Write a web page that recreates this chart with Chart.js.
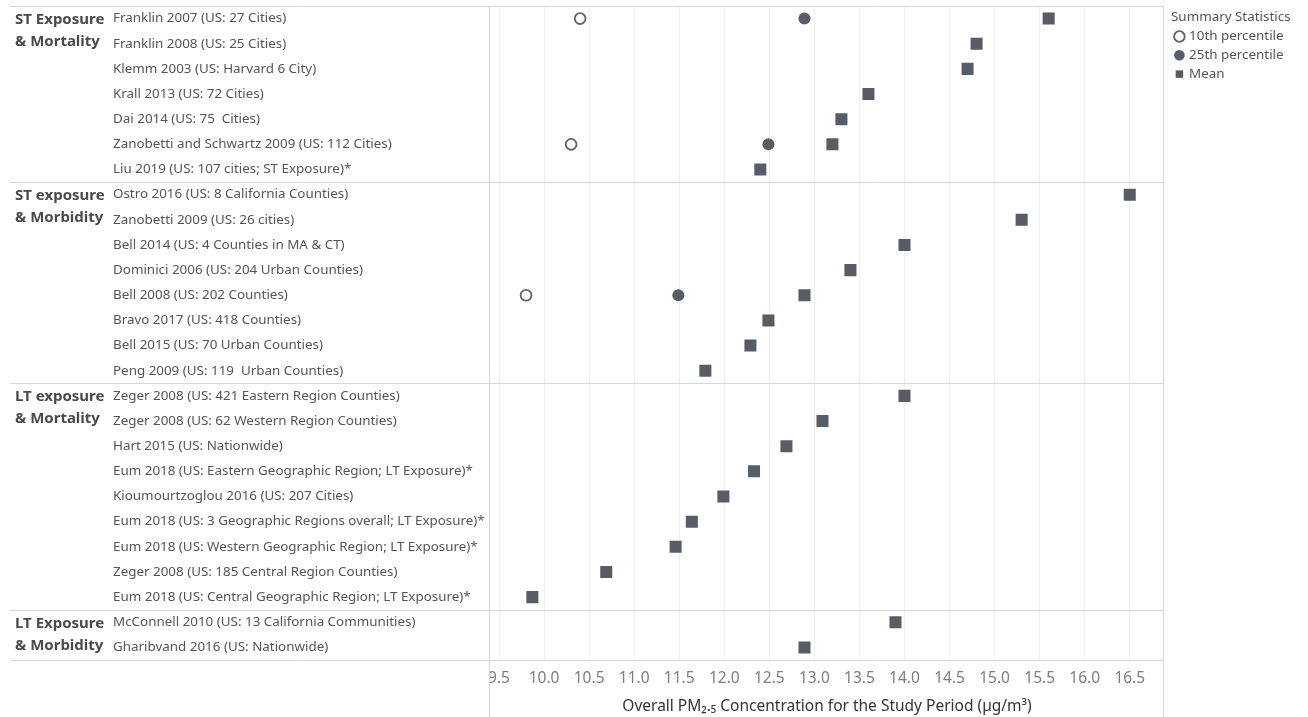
<!DOCTYPE html>
<html>
<head>
<meta charset="utf-8">
<script src="https://cdn.jsdelivr.net/npm/chart.js@4.4.1/dist/chart.umd.min.js"></script>
<style>
  html, body { margin: 0; padding: 0; background: #ffffff; }
  #wrap { width: 1308px; height: 717px; }
</style>
</head>
<body>
<div id="wrap"><canvas id="pm25Chart" width="1308" height="717"></canvas></div>
<script>
const studies = [
  "Franklin 2007 (US: 27 Cities)",
  "Franklin 2008 (US: 25 Cities)",
  "Klemm 2003 (US: Harvard 6 City)",
  "Krall 2013 (US: 72 Cities)",
  "Dai 2014 (US: 75  Cities)",
  "Zanobetti and Schwartz 2009 (US: 112 Cities)",
  "Liu 2019 (US: 107 cities; ST Exposure)*",
  "Ostro 2016 (US: 8 California Counties)",
  "Zanobetti 2009 (US: 26 cities)",
  "Bell 2014 (US: 4 Counties in MA & CT)",
  "Dominici 2006 (US: 204 Urban Counties)",
  "Bell 2008 (US: 202 Counties)",
  "Bravo 2017 (US: 418 Counties)",
  "Bell 2015 (US: 70 Urban Counties)",
  "Peng 2009 (US: 119  Urban Counties)",
  "Zeger 2008 (US: 421 Eastern Region Counties)",
  "Zeger 2008 (US: 62 Western Region Counties)",
  "Hart 2015 (US: Nationwide)",
  "Eum 2018 (US: Eastern Geographic Region; LT Exposure)*",
  "Kioumourtzoglou 2016 (US: 207 Cities)",
  "Eum 2018 (US: 3 Geographic Regions overall; LT Exposure)*",
  "Eum 2018 (US: Western Geographic Region; LT Exposure)*",
  "Zeger 2008 (US: 185 Central Region Counties)",
  "Eum 2018 (US: Central Geographic Region; LT Exposure)*",
  "McConnell 2010 (US: 13 California Communities)",
  "Gharibvand 2016 (US: Nationwide)",
];

const groupNames = [
  ["ST Exposure", "& Mortality"],
  ["ST exposure", "& Morbidity"],
  ["LT exposure", "& Mortality"],
  ["LT Exposure", "& Morbidity"],
];
const groupSizes = [7, 8, 9, 2];

const p10Values = [
  10.4, null, null, null, null, 10.3, null,
  null, null, null, null, 9.8, null, null, null,
  null, null, null, null, null, null, null, null, null,
  null, null,
];

const p25Values = [
  12.89, null, null, null, null, 12.49, null,
  null, null, null, null, 11.49, null, null, null,
  null, null, null, null, null, null, null, null, null,
  null, null,
];

const meanValues = [
  15.6, 14.8, 14.7, 13.6, 13.3, 13.2, 12.4,
  16.5, 15.3, 14.0, 13.4, 12.89, 12.49, 12.29, 11.79,
  14.0, 13.09, 12.69, 12.33, 11.99, 11.64, 11.46, 10.69, 9.87,
  13.9, 12.89,
];

const tickValues = [
  9.5, 10.0, 10.5, 11.0, 11.5, 12.0, 12.5, 13.0,
  13.5, 14.0, 14.5, 15.0, 15.5, 16.0, 16.5,
];

const seriesLabels = ["10th percentile", "25th percentile", "Mean"];
const legendTitle = "Summary Statistics";
const axisTitle = "Overall PM\u2082.\u2085 Concentration for the Study Period (\u00b5g/m\u00b3)";

const MARK_COLOR = "#575c67";
const DIVIDER_COLOR = "#d6d6d6";
const GRID_COLOR = "#efefef";
const TEXT_COLOR = "#555555";
const FONT = '"Noto Sans", "Open Sans", sans-serif';

// lines between the study groups, outer frame lines and the group names
const groupDividers = {
  id: "groupDividers",
  beforeDatasetsDraw(chart) {
    const { ctx, chartArea, scales } = chart;
    const yScale = scales.y;
    ctx.save();
    ctx.strokeStyle = DIVIDER_COLOR;
    ctx.lineWidth = 1;

    const edges = [chartArea.top];
    let count = 0;
    groupSizes.forEach((size) => {
      count += size;
      edges.push(yScale.getPixelForValue(count - 0.5));
    });
    edges.forEach((py) => {
      const yy = Math.round(py) + 0.5;
      ctx.beginPath();
      ctx.moveTo(10, yy);
      ctx.lineTo(chartArea.right, yy);
      ctx.stroke();
    });

    [chartArea.left, chartArea.right].forEach((px) => {
      const xx = Math.round(px) - 0.5;
      ctx.beginPath();
      ctx.moveTo(xx, chartArea.top);
      ctx.lineTo(xx, chart.height);
      ctx.stroke();
    });

    ctx.fillStyle = "#4a4a4a";
    ctx.font = `bold 15px ${FONT}`;
    ctx.textAlign = "left";
    ctx.textBaseline = "middle";
    let first = 0;
    groupSizes.forEach((size, index) => {
      const rowY = yScale.getPixelForValue(first) + 1;
      groupNames[index].forEach((line, lineIndex) => {
        ctx.fillText(line, 15, rowY + lineIndex * 22);
      });
      first += size;
    });
    ctx.restore();
  },
};

const legendPlacement = {
  id: "legendPlacement",
  beforeInit(chart) {
    const fitValue = chart.legend.fit;
    chart.legend.fit = function fit() {
      fitValue.bind(chart.legend)();
      this.width = 144;
    };
  },
  afterLayout(chart) {
    const legend = chart.legend;
    legend.left = 1171;
    legend.right = legend.left + legend.width;
  },
};

const renderChart = (canvas) => {
  const chartConfig = {
    type: "line",
    data: {
      labels: studies,
      datasets: [
        {
          label: seriesLabels[0],
          data: p10Values,
          showLine: false,
          pointStyle: "circle",
          pointRadius: 5.4,
          pointBorderWidth: 1.8,
          pointBackgroundColor: "#ffffff",
          pointBorderColor: "#5f636c",
          backgroundColor: "#ffffff",
          borderColor: "#5f636c",
        },
        {
          label: seriesLabels[1],
          data: p25Values,
          showLine: false,
          pointStyle: "circle",
          pointRadius: 6,
          pointBorderWidth: 0,
          pointBackgroundColor: MARK_COLOR,
          pointBorderColor: MARK_COLOR,
          backgroundColor: MARK_COLOR,
          borderColor: MARK_COLOR,
        },
        {
          label: seriesLabels[2],
          data: meanValues,
          showLine: false,
          pointStyle: "rect",
          pointRadius: 8.5,
          pointBorderWidth: 0,
          pointBackgroundColor: MARK_COLOR,
          pointBorderColor: MARK_COLOR,
          backgroundColor: MARK_COLOR,
          borderColor: MARK_COLOR,
        },
      ],
    },
    options: {
      responsive: false,
      animation: false,
      indexAxis: "y",
      layout: {
        autoPadding: false,
        padding: { top: 6, left: 113, right: 0, bottom: 0 },
      },
      plugins: {
        tooltip: { enabled: false },
        legend: {
          position: "right",
          align: "start",
          title: {
            display: true,
            text: legendTitle,
            position: "start",
            color: TEXT_COLOR,
            font: { family: FONT, size: 13.4, lineHeight: 1 },
            padding: { top: 4.5, bottom: 0.5 },
          },
          labels: {
            usePointStyle: true,
            boxWidth: 6,
            boxHeight: 7.5,
            padding: 5.4,
            color: TEXT_COLOR,
            font: { family: FONT, size: 13.4 },
          },
        },
      },
      scales: {
        x: {
          type: "linear",
          position: "bottom",
          min: 9.4,
          max: 16.88,
          afterBuildTicks(scale) {
            scale.ticks = tickValues.map((value) => ({ value: value }));
          },
          afterFit(scale) {
            scale.height = 57;
          },
          grid: {
            color: GRID_COLOR,
            lineWidth: 1,
            drawTicks: false,
          },
          border: { display: false },
          ticks: {
            padding: 9,
            color: "#7d7d7d",
            font: { family: FONT, size: 15.5 },
            callback: (value) => Number(value).toFixed(1),
          },
          title: {
            display: true,
            text: axisTitle,
            color: "#333333",
            font: { family: FONT, size: 15.5 },
            padding: { top: 0, bottom: 1 },
          },
        },
        y: {
          type: "category",
          offset: true,
          afterFit(scale) {
            scale.width = 377;
          },
          grid: { display: false },
          border: { display: false },
          ticks: {
            autoSkip: false,
            crossAlign: "far",
            padding: 0,
            color: TEXT_COLOR,
            font: { family: FONT, size: 13.4, lineHeight: 0.85 },
          },
        },
      },
    },
    plugins: [groupDividers, legendPlacement],
  };
  return new Chart(canvas, chartConfig);
};

addEventListener("DOMContentLoaded", () => {
  renderChart(document.getElementById("pm25Chart"));
});
</script>
</body>
</html>
